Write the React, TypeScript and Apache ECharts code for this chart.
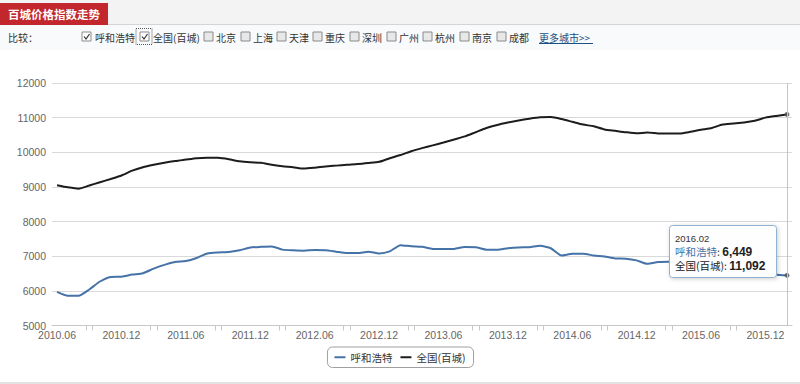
import React, { useEffect, useRef } from "react";
import * as echarts from "echarts";

const months = [
  "2010.06","2010.07","2010.08","2010.09","2010.10","2010.11","2010.12",
  "2011.01","2011.02","2011.03","2011.04","2011.05","2011.06","2011.07","2011.08","2011.09","2011.10","2011.11","2011.12",
  "2012.01","2012.02","2012.03","2012.04","2012.05","2012.06","2012.07","2012.08","2012.09","2012.10","2012.11","2012.12",
  "2013.01","2013.02","2013.03","2013.04","2013.05","2013.06","2013.07","2013.08","2013.09","2013.10","2013.11","2013.12",
  "2014.01","2014.02","2014.03","2014.04","2014.05","2014.06","2014.07","2014.08","2014.09","2014.10","2014.11","2014.12",
  "2015.01","2015.02","2015.03","2015.04","2015.05","2015.06","2015.07","2015.08","2015.09","2015.10","2015.11","2015.12",
  "2016.01","2016.02",
];

const huhehaote = [
  5970, 5860, 5860, 6040, 6270, 6400, 6410, 6470, 6510, 6640,
  6750, 6830, 6860, 6950, 7080, 7110, 7120, 7170, 7250, 7270,
  7280, 7190, 7170, 7160, 7180, 7170, 7130, 7090, 7090, 7130,
  7080, 7140, 7320, 7285, 7270, 7210, 7205, 7210, 7265, 7260,
  7190, 7185, 7230, 7255, 7260, 7300, 7230, 7020, 7070, 7070,
  7020, 6990, 6935, 6930, 6880, 6780, 6830, 6840, 6830, 6800,
  6770, 6720, 6690, 6640, 6590, 6540, 6500, 6465, 6449,
];

const national = [
  9050, 8990, 8950, 9040, 9135, 9230, 9330, 9470, 9570, 9640,
  9700, 9750, 9790, 9830, 9843, 9840, 9800, 9740, 9710, 9695,
  9640, 9600, 9570, 9530, 9555, 9590, 9615, 9640, 9660, 9690,
  9725, 9830, 9920, 10030, 10120, 10200, 10280, 10370, 10460, 10580,
  10700, 10790, 10860, 10920, 10970, 11010, 11015, 10960, 10880, 10800,
  10750, 10660, 10620, 10580, 10550, 10570, 10545, 10540, 10540, 10590,
  10650, 10700, 10800, 10830, 10860, 10910, 11000, 11050, 11092,
];

const seriesNames = ["呼和浩特", "全国(百城)"];
const labelIndices = [0, 6, 12, 18, 24, 30, 36, 42, 48, 54, 60, 66];
const yTicks = [5000, 6000, 7000, 8000, 9000, 10000, 11000, 12000];
const otherCities = ["北京", "上海", "天津", "重庆", "深圳", "广州", "杭州", "南京", "成都"];

const BLUE = "#4572A7";
const BLACK = "#1c1c1c";
const CJK = "'Noto Sans CJK SC', sans-serif";
const LAT = "'Liberation Sans', Arial, sans-serif";

function fmt(n: number) {
  return n.toLocaleString("en-US");
}

function checkbox(x: number, y: number, checked: boolean): any[] {
  const els: any[] = [
    {
      type: "rect",
      shape: { x, y, width: 9, height: 9 },
      style: { fill: checked ? "#ffffff" : "#e8e8e8", stroke: "#8a8a8a", lineWidth: 1 },
    },
  ];
  if (checked) {
    els.push({
      type: "polyline",
      shape: { points: [[x + 2, y + 4.5], [x + 4, y + 7], [x + 7.5, y + 2]] },
      style: { stroke: "#333", lineWidth: 1.2, fill: null },
    });
  }
  return els;
}

export default function App() {
  const ref = useRef<HTMLDivElement>(null);

  useEffect(() => {
    if (!ref.current) return;
    const chart = echarts.init(ref.current, null, { renderer: "svg" });
    const last = months.length - 1;
    const rowFont = { fill: "#333", fontSize: 10, fontFamily: CJK, verticalAlign: "middle" };

    const graphics: any[] = [
      { type: "rect", shape: { x: 0, y: 0, width: 800, height: 24 }, style: { fill: "#f3f3f3" } },
      { type: "line", shape: { x1: 0, y1: 24.5, x2: 800, y2: 24.5 }, style: { stroke: "#d4d4d4", lineWidth: 1 } },
      { type: "rect", shape: { x: 0, y: 25, width: 800, height: 25 }, style: { fill: "#f8fafc" } },
      { type: "rect", shape: { x: 0, y: 3, width: 108, height: 22 }, style: { fill: "#c1272d" } },
      {
        type: "text",
        style: { text: "百城价格指数走势", x: 8, y: 14, fill: "#fff", fontSize: 11.5, fontWeight: "bold", fontFamily: CJK, verticalAlign: "middle" },
      },
      { type: "text", style: { ...rowFont, text: "比较：", x: 8, y: 37 } },
      ...checkbox(82, 32, true),
      { type: "text", style: { ...rowFont, text: seriesNames[0], x: 95, y: 37 } },
      { type: "rect", shape: { x: 136, y: 28.5, width: 16, height: 16 }, style: { fill: null, stroke: "#555", lineWidth: 1, lineDash: [1, 1] } },
      ...checkbox(140, 32, true),
      { type: "text", style: { ...rowFont, text: seriesNames[1], x: 153, y: 37 } },
    ];
    const boxX = [204, 241, 277, 313, 350, 387, 423, 460, 497];
    otherCities.forEach((c, i) => {
      graphics.push(...checkbox(boxX[i], 32, false));
      graphics.push({ type: "text", style: { ...rowFont, text: c, x: boxX[i] + 12, y: 37 } });
    });
    graphics.push({ type: "text", style: { ...rowFont, text: "更多城市>>", x: 539, y: 37, fill: "#1d4f80" } });
    graphics.push({ type: "line", shape: { x1: 539, y1: 43.5, x2: 593, y2: 43.5 }, style: { stroke: "#1d4f80", lineWidth: 1 } });
    graphics.push({ type: "rect", shape: { x: 0, y: 382, width: 800, height: 2 }, style: { fill: "#e2e2e2" } });

    // tooltip box
    graphics.push({
      type: "rect",
      z: 100,
      shape: { x: 669.5, y: 225.5, width: 107, height: 52, r: 3 },
      style: { fill: "rgba(255,255,255,0.96)", stroke: "#8fb2d0", lineWidth: 1, shadowBlur: 4, shadowColor: "rgba(0,0,0,0.2)", shadowOffsetX: 1, shadowOffsetY: 1 },
    });
    const tipLines = [
      { text: months[last], y: 238, rich: false },
      { text: `{a|${seriesNames[0]}}{c|: }{b|${fmt(huhehaote[last])}}`, y: 251.5, rich: true },
      { text: `{e|${seriesNames[1]}}{c|: }{b|${fmt(national[last])}}`, y: 265.5, rich: true },
    ];
    tipLines.forEach((ln) => {
      graphics.push({
        type: "text",
        z: 101,
        style: ln.rich
          ? {
              text: ln.text,
              x: 675,
              y: ln.y,
              verticalAlign: "middle",
              rich: {
                a: { fill: BLUE, fontSize: 10.5, fontFamily: CJK, lineHeight: 12, height: 12 },
                e: { fill: "#222", fontSize: 10.5, fontFamily: CJK, lineHeight: 12, height: 12 },
                c: { fill: "#333", fontSize: 10.5, fontFamily: CJK, lineHeight: 12, height: 12 },
                b: { fill: "#222", fontSize: 12, fontWeight: "bold", fontFamily: LAT, lineHeight: 12, height: 12 },
              },
            }
          : { text: ln.text, x: 675, y: ln.y, fill: "#333", fontSize: 9.5, fontFamily: LAT, verticalAlign: "middle" },
      });
    });

    const tickVals: number[] = [];
    labelIndices.forEach((i) => {
      if (i + 3 <= last) {
        tickVals.push(i + 2.7, i + 3.3);
      }
    });

    chart.setOption({
      animation: false,
      backgroundColor: "#ffffff",
      grid: { left: 52, right: 8, top: 83, bottom: 58.5, containLabel: false },
      legend: {
        data: seriesNames,
        top: 347,
        left: "center",
        icon: "rect",
        itemWidth: 11,
        itemHeight: 2,
        itemGap: 8,
        padding: [5, 8, 5, 7],
        borderColor: "#a0a0a0",
        borderWidth: 1,
        borderRadius: 5,
        textStyle: { fontSize: 10.5, color: "#333", fontFamily: CJK },
      },
      xAxis: {
        type: "value",
        min: -0.47,
        max: last + 0.47,
        splitLine: { show: false },
        axisLine: { show: true, lineStyle: { color: "#c8c8c8", width: 1 } },
        axisTick: { show: true, customValues: tickVals, length: 5, lineStyle: { color: "#c8c8c8" } },
        axisLabel: {
          customValues: labelIndices,
          formatter: (v: number) => months[Math.round(v)] ?? "",
          color: "#666",
          fontSize: 10.5,
          fontFamily: LAT,
          margin: 4,
        },
      },
      yAxis: {
        type: "value",
        min: yTicks[0],
        max: yTicks[yTicks.length - 1],
        interval: 1000,
        axisLine: { show: false },
        axisTick: { show: false },
        splitLine: { lineStyle: { color: "#d9d9d9", width: 1 } },
        axisLabel: { color: "#666", fontSize: 10.5, fontFamily: LAT, margin: 6, formatter: (v: number) => String(v) },
      },
      graphic: graphics,
      series: [
        {
          name: seriesNames[0],
          type: "line",
          data: huhehaote.map((v, i) => [i, v]),
          showSymbol: false,
          smooth: 0.2,
          lineStyle: { color: BLUE, width: 2 },
          itemStyle: { color: BLUE },
          z: 3,
          markLine: {
            silent: true,
            symbol: "none",
            label: { show: false },
            lineStyle: { color: "#c4c4c4", width: 1, type: "solid" },
            data: [{ xAxis: last }],
          },
        },
        {
          name: seriesNames[1],
          type: "line",
          data: national.map((v, i) => [i, v]),
          showSymbol: false,
          smooth: 0.2,
          lineStyle: { color: BLACK, width: 2 },
          itemStyle: { color: BLACK },
          z: 3,
        },
        {
          type: "scatter",
          data: [[last, huhehaote[last]], [last, national[last]]],
          symbolSize: 5,
          itemStyle: { color: "#555" },
          z: 4,
          silent: true,
        },
      ],
    });

    return () => chart.dispose();
  }, []);

  return (
    <div style={{ position: "fixed", left: 0, top: 0, width: 800, height: 384, background: "#fff" }}>
      <div ref={ref} style={{ width: 800, height: 384 }} />
    </div>
  );
}
